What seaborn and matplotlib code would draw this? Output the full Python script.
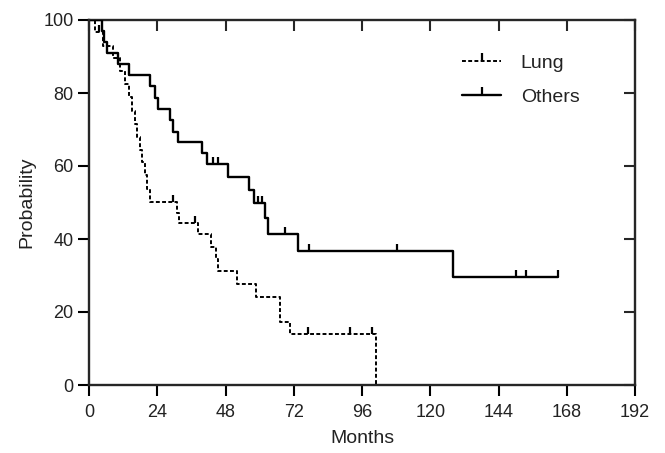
import matplotlib

matplotlib.use("Agg")
import matplotlib.pyplot as plt
import numpy as np
import pandas as pd
import seaborn as sns
from matplotlib.lines import Line2D
from matplotlib.path import Path

# Kaplan-Meier steps (months, survival %)
lung_t = [0, 2.2, 5.0, 8.5, 11.0, 12.5, 14.0, 15.0, 16.0, 17.0, 18.0, 18.8, 19.7, 20.5,
          21.5, 30.8, 31.7, 38.2, 42.9, 44.6, 45.5, 52.2, 58.7, 67.2, 70.7, 100.9]
lung_s = [100, 96.6, 93.0, 89.5, 86.0, 82.5, 79.0, 75.2, 71.6, 68.0, 64.5, 61.0, 57.4, 53.8,
          50.2, 47.0, 44.3, 41.3, 37.9, 34.6, 31.2, 27.7, 24.2, 17.3, 13.9, 0]
lung_cens = [3.4, 29.4, 37.3, 77.1, 91.8, 99.4]

others_t = [0, 4.7, 5.3, 6.2, 10.2, 14.1, 21.4, 23.2, 24.3, 28.5, 29.6, 31.4, 39.6, 41.4,
            49.0, 56.4, 58.0, 62.0, 63.0, 73.4, 128.0, 164.8]
others_s = [100, 97.0, 93.9, 90.9, 87.9, 84.8, 81.8, 78.7, 75.6, 72.5, 69.4, 66.5, 63.6, 60.5,
            56.9, 53.4, 49.8, 45.7, 41.4, 36.7, 29.6, 29.6]
others_cens = [43.7, 45.5, 59.5, 61.0, 68.9, 77.4, 108.2, 150.1, 153.6, 164.8]

x_ticks = [0, 24, 48, 72, 96, 120, 144, 168, 192]
y_ticks = [0, 20, 40, 60, 80, 100]

sns.set_style("ticks")
plt.rcParams["font.family"] = ["Liberation Sans", "DejaVu Sans"]
plt.rcParams["font.size"] = 13

text_col = "#222222"

fig = plt.figure(figsize=(6.65, 4.53), dpi=100)
ax = fig.add_axes([89 / 665, 1 - 385 / 453, (635 - 89) / 665, (385 - 20) / 453])

lung_dash = (0, (2.0, 1.2))
tick_mark = Path([(0, 0), (0, 1)])

df_lung = pd.DataFrame({"t": lung_t, "s": lung_s})
df_oth = pd.DataFrame({"t": others_t, "s": others_s})

sns.lineplot(data=df_lung, x="t", y="s", ax=ax, color="black", lw=1.4,
             drawstyle="steps-post", linestyle=lung_dash, estimator=None, sort=False)
sns.lineplot(data=df_oth, x="t", y="s", ax=ax, color="black", lw=1.7,
             drawstyle="steps-post", estimator=None, sort=False)


def level_at(times, surv, c):
    idx = np.searchsorted(times, c, side="right") - 1
    return np.asarray(surv)[idx]


for times, surv, cens in [(lung_t, lung_s, lung_cens), (others_t, others_s, others_cens)]:
    sns.scatterplot(x=cens, y=level_at(times, surv, cens), ax=ax, marker=tick_mark,
                    s=110, color="black", edgecolor="black", linewidth=1.6, zorder=5)

ax.set_xlim(0, 192)
ax.set_ylim(0, 100)
ax.set_xticks(x_ticks)
ax.set_yticks(y_ticks)
ax.tick_params(axis="both", which="major", length=8, width=1.5, labelsize=13, pad=3,
               colors="black", labelcolor=text_col)
ax.tick_params(axis="x", pad=6)

# mirrored inward ticks on top and right spines
sec_x = ax.secondary_xaxis("top")
sec_x.set_xticks(x_ticks)
sec_x.tick_params(direction="in", length=8, width=1.5, labeltop=False)
sec_y = ax.secondary_yaxis("right")
sec_y.set_yticks(y_ticks)
sec_y.tick_params(direction="in", length=8, width=1.5, labelright=False)
for sp in ["left", "bottom"]:
    ax.spines[sp].set_linewidth(1.7)
for axis in [sec_x, sec_y]:
    for sp in axis.spines.values():
        sp.set_linewidth(1.7)
ax.spines["top"].set_visible(False)
ax.spines["right"].set_visible(False)

ax.set_xlabel("Months", fontsize=14, labelpad=6, color=text_col)
ax.set_ylabel("Probability", fontsize=14, labelpad=6, color=text_col)

handles = [
    Line2D([], [], color="black", lw=1.4, linestyle=lung_dash, marker=tick_mark,
           markersize=11, markeredgewidth=1.6),
    Line2D([], [], color="black", lw=1.7, marker=tick_mark, markersize=11,
           markeredgewidth=1.6),
]
leg = ax.legend(handles, ["Lung", "Others"], loc="upper left", bbox_to_anchor=(0.652, 0.955),
                frameon=False, handlelength=2.0, handletextpad=1.0, labelspacing=0.85,
                fontsize=14)
for txt in leg.get_texts():
    txt.set_color(text_col)

fig.savefig("out.png", dpi=100)
